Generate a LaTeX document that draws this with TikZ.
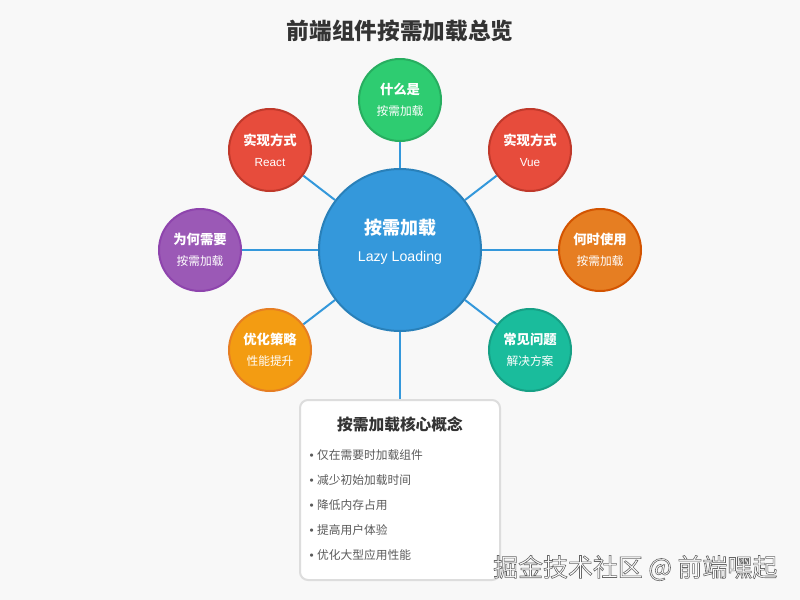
\documentclass[tikz,border=0pt]{standalone}
\usepackage{fontspec}
\setmainfont{Liberation Sans}
\newfontfamily\cjk{Noto Sans CJK SC}
\usetikzlibrary{backgrounds}

\definecolor{pagebg}{HTML}{F8F8F8}
\definecolor{titlegray}{HTML}{333333}
\definecolor{itemgray}{HTML}{5A5A5A}
\definecolor{boxedge}{HTML}{DDDDDD}
\definecolor{linkblue}{HTML}{3498DB}
\definecolor{hubblue}{HTML}{3498DB}
\definecolor{hubedge}{HTML}{2980B9}
\definecolor{greenfill}{HTML}{2ECC71}
\definecolor{greenedge}{HTML}{27AE60}
\definecolor{redfill}{HTML}{E74C3C}
\definecolor{rededge}{HTML}{C0392B}
\definecolor{purplefill}{HTML}{9B59B6}
\definecolor{purpleedge}{HTML}{8E44AD}
\definecolor{orangefill}{HTML}{E67E22}
\definecolor{orangeedge}{HTML}{D35400}
\definecolor{amberfill}{HTML}{F39C12}
\definecolor{amberedge}{HTML}{E67E22}
\definecolor{tealfill}{HTML}{1ABC9C}
\definecolor{tealedge}{HTML}{16A085}

\begin{document}
\begin{tikzpicture}[x=0.75pt, y=-0.75pt,
  topic/.style 2 args={circle, fill=#1, draw=#2, line width=1.5pt,
    minimum size=61.5pt, inner sep=0pt, text=white, align=center,
    font=\cjk\bfseries\fontsize{10}{16}\selectfont},
  link/.style={draw=linkblue, line width=1.5pt},
  item/.style={anchor=west, text=itemgray, font=\cjk\fontsize{8.8}{11}\selectfont}]
  \useasboundingbox (0,0) rectangle (800,600);
  \node[text=titlegray, font=\cjk\bfseries\fontsize{17}{20}\selectfont] (title) at (400,31) {前端组件按需加载总览};

  \node[circle, fill=hubblue, draw=hubedge, line width=1.5pt, minimum size=121.5pt, inner sep=0pt] (hub) at (400,250) {};
  \node[text=white, align=center, font=\cjk\bfseries\fontsize{13.5}{20}\selectfont] (hubtext) at (400,242)
    {按需加载\\{\fontsize{10.6}{12}\selectfont\mdseries\rmfamily Lazy Loading}};

  \foreach \n/\x/\y/\fc/\dc/\a/\b in {
      what/400/100/greenfill/greenedge/什么是/{\cjk 按需加载},
      react/270/150/redfill/rededge/实现方式/{\rmfamily React},
      vue/530/150/redfill/rededge/实现方式/{\rmfamily Vue},
      why/200/250/purplefill/purpleedge/为何需要/{\cjk 按需加载},
      when/600/250/orangefill/orangeedge/何时使用/{\cjk 按需加载},
      tune/270/350/amberfill/amberedge/优化策略/{\cjk 性能提升},
      faq/530/350/tealfill/tealedge/常见问题/{\cjk 解决方案}} {
    \node[topic={\fc}{\dc}] (\n) at (\x,\y) {\a\\{\fontsize{8.8}{10}\selectfont\mdseries\b}};
  }

  \node[rectangle, rounded corners=6pt, fill=white, draw=boxedge, line width=1.5pt,
    minimum width=150pt, minimum height=135pt] (card) at (400,490) {};
  \node[text=titlegray, font=\cjk\bfseries\fontsize{11.8}{14}\selectfont] (cardtitle) at (400,424) {按需加载核心概念};
  \foreach \t [count=\i] in {仅在需要时加载组件, 减少初始加载时间, 降低内存占用, 提高用户体验, 优化大型应用性能} {
    \node[item] (item\i) at (305,430+25*\i) {{\rmfamily•}\kern2.5pt\t};
  }

  \node[anchor=east, text=white, font=\cjk\fontsize{18.7}{20}\selectfont] (mark) at (782,568)
    {\special{pdf:literal 0.4 G 2 Tr 0.45 w}掘金技术社区 @ 前端嘿起\special{pdf:literal 0 Tr}};

  \begin{scope}[on background layer]
    \fill[pagebg] (0,0) rectangle (800,600);
    \foreach \n in {what, react, vue, why, when, tune, faq}
      \draw[link] (hub) -- (\n);
    \draw[link] (hub) -- (card);
  \end{scope}
\end{tikzpicture}
\end{document}
